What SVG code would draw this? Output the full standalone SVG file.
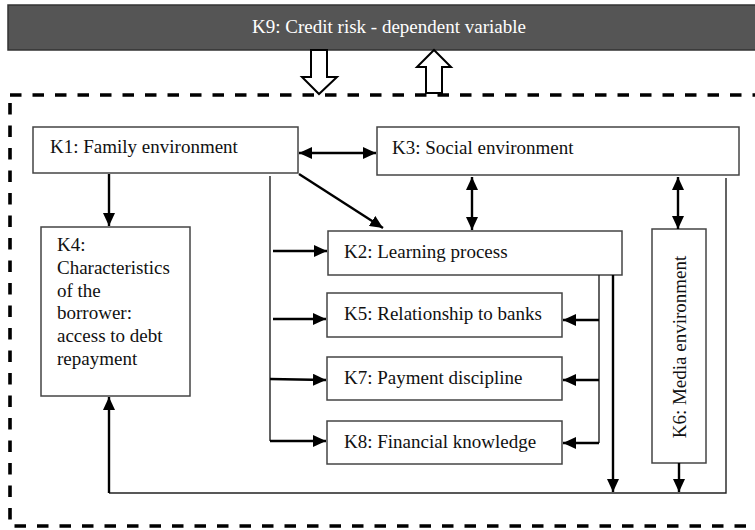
<svg xmlns="http://www.w3.org/2000/svg" width="755" height="530" viewBox="0 0 755 530">
  <style>
    .box { fill: #ffffff; stroke: #444444; stroke-width: 1.5; }
    .lbl { font-family: "Liberation Serif", "Times New Roman", serif; font-size: 19px; fill: #111111; }
    .head { font-family: "Liberation Serif", "Times New Roman", serif; font-size: 19px; fill: #ffffff; }
    .arr { fill: none; stroke: #000000; stroke-width: 2.4; }
    .thin { fill: none; stroke: #222222; stroke-width: 1.4; }
    .hollow { fill: #ffffff; stroke: #000000; stroke-width: 2; stroke-linejoin: miter; }
  </style>
  <defs>
    <marker id="ah" markerUnits="userSpaceOnUse" markerWidth="14" markerHeight="12" refX="13" refY="6" orient="auto-start-reverse">
      <path d="M0,0 L13,6 L0,12 Z" fill="#000000"/>
    </marker>
  </defs>

  <!-- dependent variable bar -->
  <g id="k9">
    <rect x="8" y="5" width="760" height="45" fill="#555555" stroke="#333333" stroke-width="1.5"/>
    <text class="head" x="389" y="33" text-anchor="middle">K9: Credit risk - dependent variable</text>
  </g>

  <!-- system boundary -->
  <g id="boundary">
    <rect x="10" y="95" width="760" height="431" fill="none" stroke="#000000" stroke-width="3.6" stroke-dasharray="11.5 11"/>
  </g>

  <!-- block arrows between bar and system -->
  <g id="flow">
    <path class="hollow" d="M311,50 L327,50 L327,77 L337,77 L319,94 L302,77 L311,77 Z"/>
    <path class="hollow" d="M426,93 L442,93 L442,67 L451,67 L434,50 L417,67 L426,67 Z"/>
  </g>

  <g id="k1">
    <rect class="box" x="33" y="127" width="265" height="46"/>
    <text class="lbl" x="50" y="153">K1: Family environment</text>
  </g>
  <g id="k3">
    <rect class="box" x="377" y="127" width="362" height="48"/>
    <text class="lbl" x="392" y="154">K3: Social environment</text>
  </g>
  <g id="k4">
    <rect class="box" x="41" y="227" width="149" height="169"/>
    <text class="lbl" x="57" y="251">K4:</text>
    <text class="lbl" x="57" y="274">Characteristics</text>
    <text class="lbl" x="57" y="297">of the</text>
    <text class="lbl" x="57" y="319">borrower:</text>
    <text class="lbl" x="57" y="342">access to debt</text>
    <text class="lbl" x="57" y="365">repayment</text>
  </g>
  <g id="k2">
    <rect class="box" x="328" y="231" width="294" height="44"/>
    <text class="lbl" x="344" y="258">K2: Learning process</text>
  </g>
  <g id="k5">
    <rect class="box" x="327" y="293" width="235" height="44"/>
    <text class="lbl" x="344" y="320">K5: Relationship to banks</text>
  </g>
  <g id="k7">
    <rect class="box" x="327" y="357" width="235" height="43"/>
    <text class="lbl" x="344" y="384">K7: Payment discipline</text>
  </g>
  <g id="k8">
    <rect class="box" x="327" y="421" width="235" height="43"/>
    <text class="lbl" x="344" y="448">K8: Financial knowledge</text>
  </g>
  <g id="k6">
    <rect class="box" x="652" y="229" width="54" height="234"/>
    <text class="lbl" x="686" y="347" text-anchor="middle" transform="rotate(-90 686 347)">K6: Media environment</text>
  </g>

  <g id="connectors">
    <!-- K1 links -->
    <line class="arr" x1="299" y1="153" x2="376" y2="153" marker-start="url(#ah)" marker-end="url(#ah)"/>
    <line class="arr" x1="299" y1="174" x2="383" y2="228" marker-end="url(#ah)"/>
    <line class="arr" x1="109" y1="174" x2="109" y2="226" marker-end="url(#ah)"/>

    <!-- K1 trunk to K2, K5, K7, K8 -->
    <polyline class="thin" points="270,176 270,441"/>
    <line class="arr" x1="273" y1="251" x2="327" y2="251" marker-end="url(#ah)"/>
    <line class="arr" x1="273" y1="319" x2="326" y2="319" marker-end="url(#ah)"/>
    <line class="arr" x1="270" y1="379" x2="326" y2="380" marker-end="url(#ah)"/>
    <line class="arr" x1="270" y1="441" x2="326" y2="441" marker-end="url(#ah)"/>

    <!-- K3 links -->
    <line class="arr" x1="472" y1="177" x2="472" y2="230" marker-start="url(#ah)" marker-end="url(#ah)"/>
    <line class="arr" x1="678" y1="177" x2="678" y2="229" marker-start="url(#ah)" marker-end="url(#ah)"/>

    <!-- K2 trunk to K5, K7, K8 -->
    <polyline class="thin" points="599,275 599,443"/>
    <line class="arr" x1="599" y1="320" x2="563" y2="320" marker-end="url(#ah)"/>
    <line class="arr" x1="599" y1="380" x2="563" y2="380" marker-end="url(#ah)"/>
    <line class="arr" x1="599" y1="443" x2="563" y2="443" marker-end="url(#ah)"/>
    <line class="arr" x1="613" y1="275" x2="613" y2="492" marker-end="url(#ah)"/>

    <!-- K6 down to the return line -->
    <line class="arr" x1="679" y1="463" x2="679" y2="492" marker-end="url(#ah)"/>

    <!-- return line from K3 back to K4 -->
    <polyline class="thin" points="726,178 726,493 109,493"/>
    <line class="arr" x1="109" y1="493" x2="109" y2="397" marker-end="url(#ah)"/>
  </g>
</svg>
